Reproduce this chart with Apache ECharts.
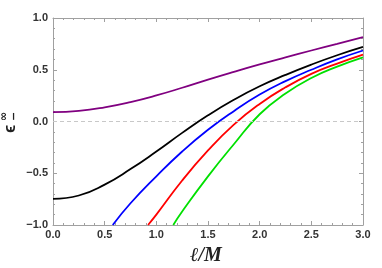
<!DOCTYPE html>
<html><head><meta charset="utf-8">
<script src="https://cdn.jsdelivr.net/npm/echarts@6/dist/echarts.min.js"></script>
<style>html,body{margin:0;padding:0;background:#fff}#c{width:382px;height:268px}</style>
</head><body><div id="c"></div>
<script>
// Data: [ell/M, epsilon]
const purpleData = [[0,0.09],[0.25,0.102],[0.5,0.137],[0.75,0.188],[1.0,0.252],[1.25,0.326],[1.5,0.405],[1.75,0.48],[2.0,0.552],[2.25,0.62],[2.5,0.686],[2.75,0.75],[3.0,0.815]];
const blackData = [[0,-0.747],[0.25,-0.715],[0.5,-0.61],[0.75,-0.46],[1.0,-0.29],[1.25,-0.11],[1.5,0.06],[1.75,0.21],[2.0,0.34],[2.25,0.45],[2.5,0.55],[2.75,0.64],[3.0,0.72]];
const blueData = [[0.578,-1],[0.75,-0.79],[1.0,-0.53],[1.25,-0.29],[1.5,-0.08],[1.75,0.1],[2.0,0.26],[2.25,0.39],[2.5,0.5],[2.75,0.6],[3.0,0.686]];
const redData = [[0.92,-1],[1.0,-0.9],[1.25,-0.57],[1.5,-0.28],[1.75,-0.03],[2.0,0.17],[2.25,0.33],[2.5,0.46],[2.75,0.56],[3.0,0.647]];
const greenData = [[1.164,-1],[1.25,-0.87],[1.5,-0.53],[1.75,-0.22],[2.0,0.07],[2.25,0.27],[2.5,0.42],[2.75,0.53],[3.0,0.62]];
const xTicks = [0,0.5,1.0,1.5,2.0,2.5,3.0];
const yTicks = [-1.0,-0.5,0.0,0.5,1.0];

const chart = echarts.init(document.getElementById('c'), null, {renderer:'canvas'});
const axisCol = '#a0a0a0';
const lblStyle = {color:'#333', fontFamily:'Liberation Sans, Arial, sans-serif', fontWeight:'bold', fontSize:11};
function mkX(pos, show){
  return {type:'value', position:pos, min:xTicks[0], max:xTicks[xTicks.length-1], interval:0.5,
    axisLine:{show:true, onZero:false, lineStyle:{color:axisCol, width:1}},
    axisTick:{show:true, inside:true, length:4, lineStyle:{color:axisCol}},
    minorTick:{show:true, splitNumber:5, length:2, lineStyle:{color:axisCol}},
    splitLine:{show:false},
    axisLabel:{show:show, margin:4, formatter:v=>v.toFixed(1), ...lblStyle}};
}
function mkY(pos, show){
  return {type:'value', position:pos, min:yTicks[0], max:yTicks[yTicks.length-1], interval:0.5,
    axisLine:{show:true, onZero:false, lineStyle:{color:axisCol, width:1}},
    axisTick:{show:true, inside:true, length:4, lineStyle:{color:axisCol}},
    minorTick:{show:true, splitNumber:5, length:2, lineStyle:{color:axisCol}},
    splitLine:{show:false},
    axisLabel:{show:show, margin:5, formatter:v=>v.toFixed(1).replace('-','\u2212'), ...lblStyle}};
}
function line(data, color, extra){
  return Object.assign({type:'line', data:data, smooth:true, showSymbol:false, symbol:'none', clip:true,
    lineStyle:{color:color, width:1.8}, itemStyle:{color:color}}, extra||{});
}
chart.setOption({
  animation:false,
  grid:{left:53, right:19, top:18, bottom:43},
  xAxis:[mkX('bottom', true), mkX('top', false)],
  yAxis:[mkY('left', true), mkY('right', false)],
  series:[
    line(purpleData, '#800080', {markLine:{silent:true, symbol:'none', label:{show:false},
      lineStyle:{color:'#c8c8c8', type:[4,3], width:1}, data:[{yAxis:0}]}}),
    line(greenData, '#00e000'),
    line(redData, '#ff0000'),
    line(blueData, '#0000ff'),
    line(blackData, '#000000')
  ],
  graphic:[
    {type:'text', left:190, top:246, style:{text:'\u2113/M', font:'italic bold 20px "Liberation Serif", "DejaVu Serif", serif', fill:'#222'}},
    {type:'text', x:19, y:133, rotation:Math.PI/2, style:{text:'\u03F5', font:'bold 17px "Liberation Sans", "DejaVu Sans", sans-serif', fill:'#222', textVerticalAlign:'bottom'}},
    {type:'text', x:10, y:121, rotation:Math.PI/2, style:{text:'\u221E', font:'bold 11px "DejaVu Sans", sans-serif', fill:'#222', textVerticalAlign:'bottom'}},
    {type:'text', x:20, y:121, rotation:Math.PI/2, style:{text:'\u2212', font:'bold 11px "DejaVu Sans", sans-serif', fill:'#222', textVerticalAlign:'bottom'}}
  ]
});
</script></body></html>
